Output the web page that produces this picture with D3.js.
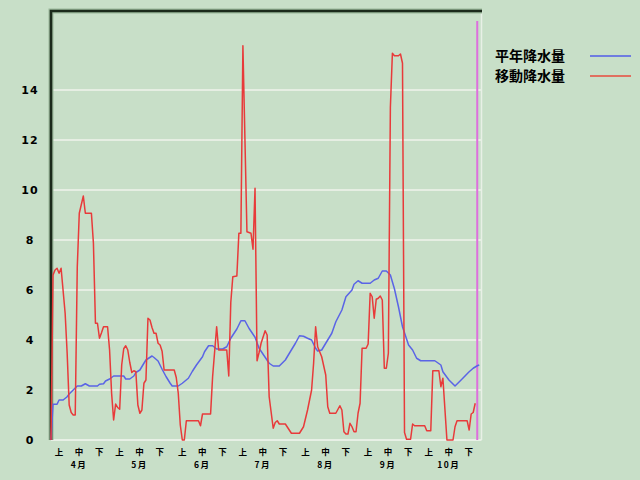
<!DOCTYPE html>
<html>
<head>
<meta charset="utf-8">
<script src="https://cdn.jsdelivr.net/npm/d3@7"></script>
<style>
  html, body { margin: 0; padding: 0; background: #c8dfc8; }
  svg { display: block; }
</style>
</head>
<body>
<svg id="chart" width="640" height="480"></svg>
<script>
// ---- data ----
const months = ["4月", "5月", "6月", "7月", "8月", "9月", "10月"];
const monthStartDays = [0, 30, 61, 91, 122, 153, 183];
const dekadLabels = ["上", "中", "下"];
const yTicks = [0, 2, 4, 6, 8, 10, 12, 14];
const seriesNames = ["平年降水量", "移動降水量"];
const todayDay = 211;

const normalDays = [0,1,3,4,6,8,9,11,13,15,17,19,23,24,26,27,29,31,36,37,39,41,42,44,46,47,50,51,53,55,57,59,60,63,65,68,70,72,75,76,78,80,82,85,87,89,92,94,96,98,101,103,106,108,110,113,116,118,121,123,125,127,129,131,132,134,136,139,141,144,146,149,150,152,154,158,160,162,164,166,168,170,172,174,177,179,181,183,190,193,194,197,200,203,207,209,211,212];
const normalValues = [0,1.43,1.43,1.6,1.6,1.73,1.84,2.0,2.16,2.16,2.25,2.16,2.16,2.23,2.25,2.36,2.44,2.56,2.56,2.44,2.44,2.56,2.7,2.8,3.07,3.2,3.36,3.3,3.16,2.83,2.53,2.27,2.16,2.16,2.27,2.47,2.75,3.0,3.33,3.53,3.77,3.77,3.64,3.64,3.73,4.07,4.44,4.77,4.77,4.47,4.11,3.67,3.31,3.07,2.96,2.96,3.2,3.47,3.87,4.17,4.15,4.07,4.0,3.67,3.56,3.6,3.87,4.27,4.73,5.2,5.73,6.0,6.23,6.37,6.27,6.27,6.4,6.47,6.76,6.76,6.6,6.05,5.33,4.53,3.8,3.6,3.27,3.17,3.17,3.0,2.73,2.4,2.16,2.4,2.73,2.87,2.97,3.0];

const movingDays = [0,1,2,3,4,5,7,8,9,10,11,12,13,14,16,17,20,21,22,23,24,25,26,28,29,30,31,32,33,34,35,36,37,38,39,40,41,42,43,44,45,46,47,48,49,50,51,52,53,54,55,56,61,62,63,64,65,66,67,73,74,75,79,80,82,83,87,88,89,90,92,93,94,95,97,99,100,101,102,103,104,106,107,108,110,111,112,113,116,119,123,125,127,129,130,131,132,134,136,137,138,141,143,144,145,146,147,148,149,150,151,152,153,154,156,157,158,159,160,161,162,163,164,165,166,167,168,169,170,172,173,174,175,176,178,179,180,185,186,188,189,192,193,194,196,199,200,201,206,207,208,209,210];
const movingValues = [0,6.6,6.8,6.87,6.67,6.87,5.07,3.47,1.4,1.1,1.0,1.0,6.9,9.07,9.76,9.07,9.07,7.87,4.67,4.67,4.07,4.29,4.53,4.53,3.6,1.87,0.8,1.44,1.3,1.23,3.0,3.65,3.77,3.6,3.1,2.7,2.77,2.73,1.4,1.07,1.2,2.27,2.4,4.87,4.8,4.5,4.27,4.27,3.87,3.8,3.55,2.8,2.8,2.5,1.87,0.6,0,0,0.77,0.77,0.57,1.04,1.04,2.53,4.53,3.6,3.6,2.56,5.5,6.53,6.56,8.27,8.27,15.77,8.33,8.27,7.63,10.07,3.17,3.5,3.87,4.37,4.2,1.73,0.47,0.7,0.77,0.64,0.64,0.27,0.27,0.53,1.2,2.0,3.07,4.53,3.73,3.33,2.6,1.33,1.07,1.07,1.37,1.2,0.33,0.24,0.24,0.67,0.53,0.33,0.33,1.07,1.47,3.67,3.67,3.84,5.87,5.73,4.87,5.63,5.67,5.76,5.6,2.87,2.87,3.47,13.3,15.47,15.37,15.37,15.44,15.07,0.3,0.03,0.03,0.64,0.57,0.57,0.37,0.37,2.77,2.77,2.13,2.47,0,0,0.53,0.77,0.77,0.4,1.04,1.1,1.47];

// ---- chart ----
const svg = d3.select("#chart");
const colors = { normal: "#5a64e6", moving: "#e83a3a" };
const cjk = "'Noto Sans CJK JP', 'Noto Sans', sans-serif";

const x = d3.scaleLinear().domain([0, 214]).range([51, 483.3]);
const y = d3.scaleLinear().domain([0, 17.16]).range([440, 11]);
const plotLeft = 51, plotRight = 481.5, plotTop = 11, plotBottom = 440;

// grid lines
svg.append("g").selectAll("line").data(yTicks.filter(d => d > 0)).join("line")
  .attr("x1", plotLeft).attr("x2", plotRight)
  .attr("y1", d => y(d)).attr("y2", d => y(d))
  .attr("stroke", "#e6eee3").attr("stroke-width", 2);

// bottom & right light lines
svg.append("line").attr("x1", plotLeft).attr("x2", plotRight).attr("y1", plotBottom).attr("y2", plotBottom)
  .attr("stroke", "#e8f0e6").attr("stroke-width", 2);
svg.append("line").attr("x1", plotRight).attr("x2", plotRight).attr("y1", plotTop).attr("y2", plotBottom)
  .attr("stroke", "#e8f0e6").attr("stroke-width", 1.5);

// today marker
svg.append("line").attr("x1", x(todayDay)).attr("x2", x(todayDay))
  .attr("y1", 21).attr("y2", plotBottom)
  .attr("stroke", "#dd6fdd").attr("stroke-width", 2);

// frame (top & left dark)
const framePath = `M${plotLeft},${plotBottom} L${plotLeft},${plotTop} L482,${plotTop}`;
svg.append("path").attr("d", framePath)
  .attr("fill", "none").attr("stroke", "#9ab89a").attr("stroke-width", 5);
svg.append("path").attr("d", framePath)
  .attr("fill", "none").attr("stroke", "#1b2a1b").attr("stroke-width", 2.6);

// lines
const line = d3.line().x(d => x(d[0])).y(d => y(d[1]));
const normalData = normalDays.map((d, i) => [d, normalValues[i]]);
const movingData = movingDays.map((d, i) => [d, movingValues[i]]);

svg.append("path").datum(normalData).attr("d", line)
  .attr("fill", "none").attr("stroke", colors.normal).attr("stroke-width", 1.5)
  .attr("stroke-linejoin", "round");
svg.append("path").datum(movingData).attr("d", line)
  .attr("fill", "none").attr("stroke", colors.moving).attr("stroke-width", 1.5)
  .attr("stroke-linejoin", "round");

// y axis labels
const yAxis = d3.axisLeft(y).tickValues(yTicks).tickSize(0).tickPadding(0).tickFormat(d3.format("d"));
const gy = svg.append("g").attr("transform", "translate(30,0)").call(yAxis);
gy.select(".domain").remove();
gy.selectAll("text").attr("text-anchor", "middle").attr("dy", "0.35em")
  .attr("font-family", "'DejaVu Sans', sans-serif").attr("font-weight", "bold")
  .attr("font-size", 11).attr("fill", "#000").attr("letter-spacing", 1);

// x axis: dekad labels
const dekadOffsets = [3.7, 13.6, 23.6];
const dekadTicks = [];
monthStartDays.forEach(s => dekadOffsets.forEach(o => dekadTicks.push(s + o)));
const xAxis1 = d3.axisBottom(x).tickValues(dekadTicks).tickSize(0).tickPadding(0)
  .tickFormat((d, i) => dekadLabels[i % 3]);
const gx1 = svg.append("g").attr("transform", "translate(0,455)").call(xAxis1);
gx1.select(".domain").remove();
gx1.selectAll("text").attr("y", 0).attr("dy", 0).attr("font-family", cjk)
  .attr("font-size", 8.5).attr("font-weight", "bold").attr("fill", "#000");

const xAxis2 = d3.axisBottom(x).tickValues(monthStartDays.map(s => s + dekadOffsets[1]))
  .tickSize(0).tickPadding(0).tickFormat((d, i) => months[i]);
const gx2 = svg.append("g").attr("transform", "translate(0,468)").call(xAxis2);
gx2.select(".domain").remove();
gx2.selectAll("text").attr("y", 0).attr("dy", 0).attr("font-family", cjk)
  .attr("font-size", 8.5).attr("font-weight", "bold").attr("fill", "#000").attr("letter-spacing", 1.5);

// legend
const legend = svg.append("g");
[colors.normal, colors.moving].forEach((c, i) => {
  const ly = 56 + i * 20;
  legend.append("text").attr("x", 495).attr("y", ly).attr("dy", "0.35em")
    .attr("font-family", cjk).attr("font-weight", "bold").attr("font-size", 14)
    .attr("fill", "#000").text(seriesNames[i]);
  legend.append("line").attr("x1", 590).attr("x2", 631).attr("y1", ly).attr("y2", ly)
    .attr("stroke", i === 0 ? "#6f7de0" : "#e07060").attr("stroke-width", 2);
});
</script>
</body>
</html>
